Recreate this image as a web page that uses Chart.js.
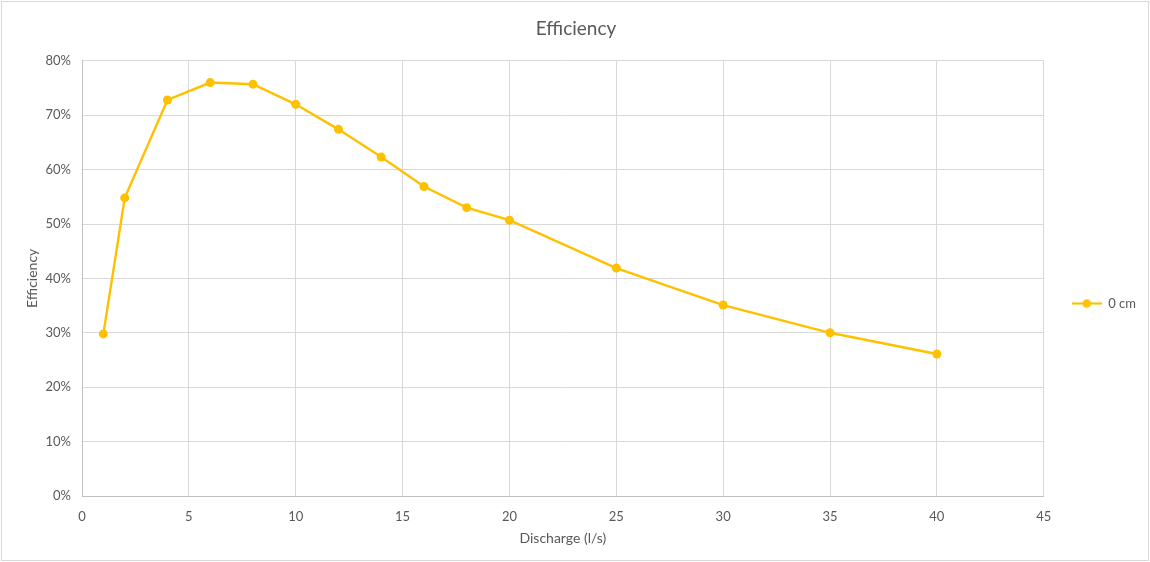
<!DOCTYPE html>
<html>
<head>
<meta charset="utf-8">
<title>Efficiency</title>
<script src="https://cdn.jsdelivr.net/npm/chart.js@4/dist/chart.umd.min.js"></script>
<style>
  html, body { margin: 0; padding: 0; background: #ffffff; }
  #wrap { position: relative; width: 1150px; height: 562px; }
</style>
</head>
<body>
<div id="wrap"><canvas id="chart" width="1150" height="562"></canvas></div>
<script>
// Discharge (l/s) and measured efficiency (%) for the 0 cm configuration
const discharge = [1, 2, 4, 6, 8, 10, 12, 14, 16, 18, 20, 25, 30, 35, 40];
const efficiency = [29.8, 54.8, 72.8, 76.0, 75.7, 72.0, 67.4, 62.3, 56.9, 53.0, 50.7, 41.9, 35.1, 30.0, 26.1];
const seriesLabel = '0 cm';
const xTicks = [0, 5, 10, 15, 20, 25, 30, 35, 40, 45];
const yTicks = [0, 10, 20, 30, 40, 50, 60, 70, 80];

const gold = '#FFC000';
const textGrey = '#595959';
const gridGrey = '#d9d9d9';
const fontFamily = 'Lato, "Liberation Sans", sans-serif';

// Legend symbol: a short line with a marker in the middle
const legendIcon = document.createElement('canvas');
legendIcon.width = 30;
legendIcon.height = 10;
(function () {
  const c = legendIcon.getContext('2d');
  c.strokeStyle = gold;
  c.lineWidth = 2.25;
  c.beginPath();
  c.moveTo(0, 5);
  c.lineTo(30, 5);
  c.stroke();
  c.fillStyle = gold;
  c.beginPath();
  c.arc(15, 5, 4.3, 0, Math.PI * 2);
  c.fill();
})();

// Thin frame around the whole chart
const frame = {
  id: 'frame',
  afterDraw(chart) {
    const c = chart.ctx;
    c.save();
    c.strokeStyle = gridGrey;
    c.lineWidth = 1;
    c.strokeRect(1.5, 1.5, chart.width - 3, chart.height - 3);
    c.restore();
  }
};

// Nudge the legend a little right and down, next to the middle of the plot
const legendNudge = {
  id: 'legendNudge',
  afterLayout(chart) {
    const lg = chart.legend;
    if (!lg) return;
    lg.left += 18; lg.right += 18;
    lg.top += 30; lg.bottom += 30;
  }
};

new Chart(document.getElementById('chart'), {
  type: 'scatter',
  data: {
    datasets: [{
      label: seriesLabel,
      data: discharge.map((x, i) => ({ x: x, y: efficiency[i] })),
      showLine: true,
      borderColor: gold,
      backgroundColor: gold,
      borderWidth: 2.4,
      pointRadius: 4.5,
      pointHoverRadius: 4.5,
      pointBorderWidth: 0,
      tension: 0
    }]
  },
  options: {
    responsive: false,
    animation: false,
    layout: { padding: { left: 24, right: 22, top: 0, bottom: 15 } },
    plugins: {
      tooltip: { enabled: false },
      title: {
        display: true,
        text: 'Efficiency',
        color: textGrey,
        font: { family: fontFamily, size: 19, weight: 'normal' },
        padding: { top: 17, bottom: 21 }
      },
      legend: {
        position: 'right',
        labels: {
          color: textGrey,
          font: { family: fontFamily, size: 13 },
          usePointStyle: true,
          pointStyleWidth: 30,
          padding: 10,
          generateLabels(chart) {
            const items = Chart.defaults.plugins.legend.labels.generateLabels(chart);
            items.forEach(it => { it.pointStyle = legendIcon; });
            return items;
          }
        }
      }
    },
    scales: {
      x: {
        type: 'linear',
        min: 0,
        max: 45,
        afterBuildTicks(scale) { scale.ticks = xTicks.map(v => ({ value: v })); },
        afterFit(scale) { scale.height = 51; },
        grid: { color: gridGrey, drawTicks: false, lineWidth: 1 },
        border: { color: '#bfbfbf', width: 1 },
        ticks: {
          color: textGrey,
          font: { family: fontFamily, size: 13 },
          padding: 13,
          maxRotation: 0
        },
        title: {
          display: true,
          text: 'Discharge (l/s)',
          color: textGrey,
          font: { family: fontFamily, size: 14 },
          padding: { top: 4, bottom: 0 }
        }
      },
      y: {
        min: 0,
        max: 80,
        afterBuildTicks(scale) { scale.ticks = yTicks.map(v => ({ value: v })); },
        afterFit(scale) { scale.width = 58; },
        grid: { color: gridGrey, drawTicks: false, lineWidth: 1 },
        border: { color: '#bfbfbf', width: 1 },
        ticks: {
          color: textGrey,
          font: { family: fontFamily, size: 13 },
          padding: 11,
          callback: v => v + '%'
        },
        title: {
          display: true,
          text: 'Efficiency',
          color: textGrey,
          font: { family: fontFamily, size: 14 },
          padding: { top: 0, bottom: 0 }
        }
      }
    }
  },
  plugins: [frame, legendNudge]
});
</script>
</body>
</html>
